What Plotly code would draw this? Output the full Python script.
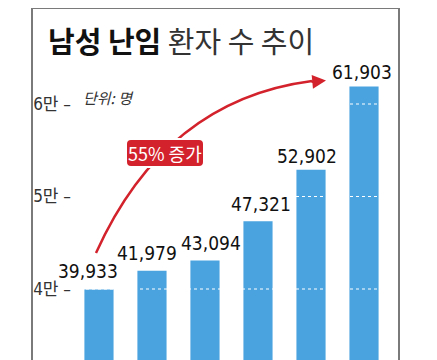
import plotly.graph_objects as go

years = ["2017", "2018", "2019", "2020", "2021", "2022"]
patients = [39933, 41979, 43094, 47321, 52902, 61903]
tick_vals = [40000, 50000, 60000]
tick_text = ["4만 –", "5만 –", "6만 –"]

# label nudges (pixels) to mimic the hand-placed value labels
label_dx = [-11, -5, 6, 3, -4, -2]
label_dy = [6, 5, 4, 4, 1, 1]

W, H = 437, 360
OFF = 8  # page body margin offset
NARROW = "DejaVu Sans Condensed, Liberation Sans, Noto Sans CJK KR, sans-serif"
KR = "Noto Sans CJK KR, Noto Sans, sans-serif"

def px(x):
    return (x - OFF) / W

def py(y):
    return 1 - (y - OFF) / H

xs = list(range(len(years)))
fig = go.Figure()
fig.add_trace(go.Bar(
    x=xs, y=patients,
    marker_color="#4aa3df", marker_line_width=0, width=0.55,
    cliponaxis=False, hoverinfo="skip",
))

shapes = []
for v in tick_vals:
    shapes.append(dict(type="line", xref="paper", yref="y", x0=px(80), x1=px(385),
                       y0=v, y1=v, line=dict(color="white", width=1, dash="dot"), layer="above"))
shapes.append(dict(type="path", xref="paper", yref="paper",
                   path=f"M {px(32)},{py(370)} L {px(32)},{py(8)} L {px(399)},{py(8)} L {px(399)},{py(370)}",
                   line=dict(color="#7a7a7a", width=2)))
sx, sy, cx, cy, ex, ey = 96, 253, 165, 100, 312, 81
shapes.append(dict(type="path", xref="paper", yref="paper",
                   path=f"M {px(sx)},{py(sy)} Q {px(cx)},{py(cy)} {px(ex)},{py(ey)}",
                   line=dict(color="#d3222b", width=2.5)))
bx0, bx1, by0, by1, r = 126, 204, 139, 167, 5
path = (f"M {px(bx0+r)},{py(by0)} L {px(bx1-r)},{py(by0)} Q {px(bx1)},{py(by0)} {px(bx1)},{py(by0+r)} "
        f"L {px(bx1)},{py(by1-r)} Q {px(bx1)},{py(by1)} {px(bx1-r)},{py(by1)} "
        f"L {px(bx0+r)},{py(by1)} Q {px(bx0)},{py(by1)} {px(bx0)},{py(by1-r)} "
        f"L {px(bx0)},{py(by0+r)} Q {px(bx0)},{py(by0)} {px(bx0+r)},{py(by0)} Z")
shapes.append(dict(type="path", xref="paper", yref="paper", path=path,
                   fillcolor="#d3222b", line=dict(color="white", width=2)))

annotations = [
    dict(xref="paper", yref="paper", x=px(46), y=py(40), xanchor="left", yanchor="middle",
         text="<b>남성 난임</b> <span style='color:#333'>환자 수 추이</span>",
         showarrow=False, font=dict(family=KR, size=29, color="#111")),
    dict(xref="paper", yref="paper", x=px(81), y=py(97), xanchor="left", yanchor="middle",
         text="<i>단위: 명</i>", showarrow=False, font=dict(family=KR, size=15, color="#333")),
    dict(xref="paper", yref="paper", x=px(165), y=py(153), xanchor="center", yanchor="middle",
         text="55% 증가", showarrow=False, font=dict(family=KR, size=18, color="white")),
    dict(xref="paper", yref="paper", x=px(326), y=py(80.5), axref="pixel", ayref="pixel",
         ax=-16, ay=1.5, text="", showarrow=True, arrowhead=2, arrowsize=1.1,
         arrowwidth=2.5, arrowcolor="#d3222b"),
]
for x, v, dx, dy in zip(xs, patients, label_dx, label_dy):
    annotations.append(dict(x=x, y=v, xref="x", yref="y", xanchor="center", yanchor="bottom",
                            text=f"{v:,}", showarrow=False, xshift=dx, yshift=dy,
                            font=dict(family=NARROW, size=19, color="#111")))

fig.update_layout(
    width=W, height=H, margin=dict(l=0, r=0, t=0, b=0),
    paper_bgcolor="white", plot_bgcolor="white", showlegend=False,
    xaxis=dict(domain=[(72 - OFF) / W, 1], range=[-0.509, 6.528], visible=False),
    yaxis=dict(range=[31460, 70378], tickvals=tick_vals, ticktext=tick_text,
               showgrid=False, zeroline=False, showline=False, ticks="",
               automargin=False,
               tickfont=dict(family=NARROW, size=17, color="#333")),
    shapes=shapes, annotations=annotations,
)

fig.write_html("out.html")
